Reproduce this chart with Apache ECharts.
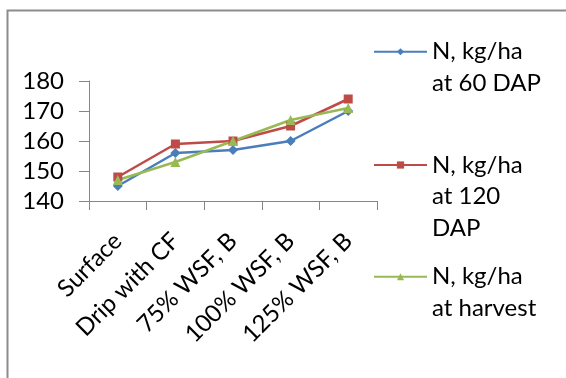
<!DOCTYPE html>
<html>
<head>
<meta charset="utf-8">
<script src="https://cdn.jsdelivr.net/npm/echarts@6/dist/echarts.min.js"></script>
<style>
html,body{margin:0;padding:0;background:#fff;}
#c{width:566px;height:378px;}
</style>
</head>
<body>
<div id="c"></div>
<script>
const categories = ['Surface', 'Drip with CF', '75% WSF, B', '100% WSF, B', '125% WSF, B'];
const n60 = [145, 156, 157, 160, 170];
const n120 = [148, 159, 160, 165, 174];
const nHarvest = [147, 153, 160, 167, 171];
const seriesNames = ['N, kg/ha\nat 60 DAP', 'N, kg/ha\nat 120\nDAP', 'N, kg/ha\nat harvest'];
const yMin = 140, yMax = 180, yStep = 10;

const FONT = 'Lato';
const FS = 24;
const LH = 31.5;
const colors = ['#4A7EBB', '#BE4B48', '#98B954'];

const chart = echarts.init(document.getElementById('c'));

function legendFor(i, top, lines) {
  let pre = '';
  for (let k = 1; k < lines; k++) pre += '\n';
  return {
    show: true,
    data: [seriesNames[i]],
    orient: 'vertical',
    left: 373,
    top: top,
    padding: 0,
    itemWidth: 53,
    itemHeight: 9,
    itemGap: 0,
    formatter: function (name) { return pre + name; },
    textStyle: {
      fontFamily: FONT,
      fontSize: FS,
      color: '#000',
      lineHeight: LH
    }
  };
}

chart.setOption({
  animation: false,
  backgroundColor: '#fff',
  color: colors,
  graphic: [{
    type: 'rect',
    shape: { x: 7.5, y: 10.5, width: 700, height: 500 },
    style: { fill: 'none', stroke: '#8c8c8c', lineWidth: 2 },
    silent: true
  }],
  legend: [
    legendFor(0, 4.5, 2),
    legendFor(1, 86.25, 3),
    legendFor(2, 229.5, 2)
  ],
  grid: { left: 89, right: 189, top: 81, bottom: 177 },
  xAxis: {
    type: 'category',
    data: categories,
    boundaryGap: true,
    axisLine: { lineStyle: { color: '#868686', width: 1 } },
    axisTick: { show: true, length: 9, lineStyle: { color: '#868686' } },
    axisLabel: {
      rotate: 45,
      interval: 0,
      margin: 36,
      fontFamily: FONT,
      fontSize: FS,
      color: '#000'
    }
  },
  yAxis: {
    type: 'value',
    min: yMin,
    max: yMax,
    interval: yStep,
    splitLine: { show: false },
    axisLine: { show: true, lineStyle: { color: '#868686', width: 1 } },
    axisTick: { show: true, length: 10, lineStyle: { color: '#868686' } },
    axisLabel: {
      margin: 25,
      fontFamily: FONT,
      fontSize: FS,
      color: '#000'
    }
  },
  series: [
    {
      name: seriesNames[0], type: 'line', data: n60,
      symbol: 'diamond', symbolSize: 10,
      lineStyle: { width: 2.5 }
    },
    {
      name: seriesNames[1], type: 'line', data: n120,
      symbol: 'rect', symbolSize: 9,
      lineStyle: { width: 2.5 }
    },
    {
      name: seriesNames[2], type: 'line', data: nHarvest,
      symbol: 'triangle', symbolSize: 10,
      lineStyle: { width: 2.5 }
    }
  ]
});
</script>
</body>
</html>
